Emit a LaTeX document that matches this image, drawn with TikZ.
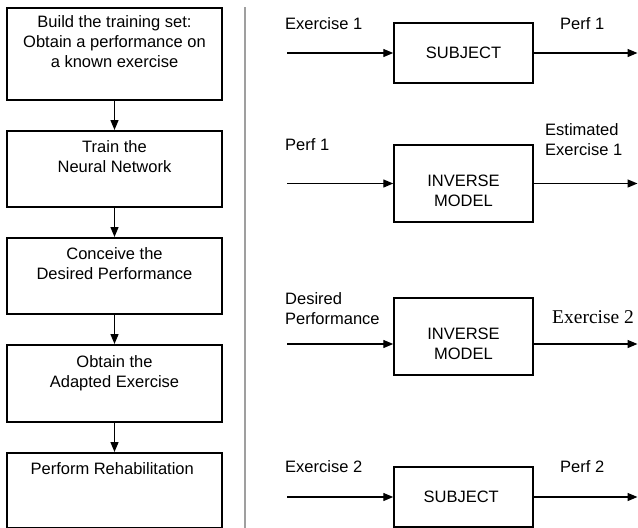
\documentclass[tikz,border=0pt]{standalone}
\usepackage{fontspec}
\setmainfont{Liberation Sans}
\newfontfamily\timesfont{Liberation Serif}
\usetikzlibrary{arrows.meta}
\tikzset{
    stepbox/.style={draw, line width=1.5pt, minimum width=215pt, anchor=north, inner sep=0pt},
    blockbox/.style={draw, line width=1.5pt, minimum width=139pt, inner sep=0pt},
    lbl/.style={font=\fontsize{16.5}{20}\selectfont, align=center, inner sep=0pt},
    arr/.style={line width=1.4pt, -{Triangle[length=10pt,width=8pt]}}
}
\begin{document}
\begin{tikzpicture}[x=1pt, y=-1pt]
        \useasboundingbox (0,0) rectangle (638,528);

        % Steps
        \foreach \i/\top/\h/\off/\txt in {
            1/7/92/8/{Build the training set:\\Obtain a performance on\\a known exercise},
            2/130/76/10/{Train the\\Neural Network},
            3/237/76/10/{Conceive the\\Desired Performance},
            4/344/77/11/{Obtain the\\Adapted Exercise},
            5/452/75/10/{Perform Rehabilitation}
            } {
            \node[stepbox, minimum height=\h pt,
                label={[lbl, anchor=north, yshift=-\off pt]north:{\txt}}] (step\i) at (114.5,\top) {};
        }
        \foreach \a/\b in {1/2, 2/3, 3/4, 4/5} {
            \draw[arr] (step\a) -- (step\b);
        }

        % Separator
        \draw[gray!75, line width=1.5pt] (245,7) -- (245,528);

        % Blocks
        \foreach \n/\y/\h/\ty/\ay/\txt in {
            subjA/53/60/53/53/SUBJECT,
            invA/183.5/77/190.5/183.5/{INVERSE\\MODEL},
            invB/336.5/77/343.5/344/{INVERSE\\MODEL},
            subjB/497/60/497/497/SUBJECT
            } {
            \node[blockbox, minimum height=\h pt] (\n) at (463.5,\y) {};
            \node[lbl] (\n txt) at (463.5,\ty) {\txt};
            \coordinate (\n in) at (287,\ay);
            \coordinate (\n out) at (637.5,\ay);
            \draw[arr] (\n in) -- (\n.west |- \n in);
            \draw[arr] (\n.east |- \n out) -- (\n out);
        }

        % Signals
        \node[lbl, anchor=west, align=left] (exA) at (285,24) {Exercise 1};
        \node[lbl, anchor=west, align=left] (perfA) at (560,24) {Perf 1};
        \node[lbl, anchor=west, align=left] (perfB) at (285,145) {Perf 1};
        \node[lbl, anchor=west, align=left] (estA) at (545,140) {Estimated\\Exercise 1};
        \node[lbl, anchor=west, align=left] (desB) at (285,308.5) {Desired\\Performance};
        \node[lbl, anchor=west, font=\timesfont\fontsize{19.5}{22}\selectfont] (exB) at (552,317) {Exercise 2};
        \node[lbl, anchor=west, align=left] (exC) at (285,467) {Exercise 2};
        \node[lbl, anchor=west, align=left] (perfC) at (560,467) {Perf 2};
\end{tikzpicture}
\end{document}
